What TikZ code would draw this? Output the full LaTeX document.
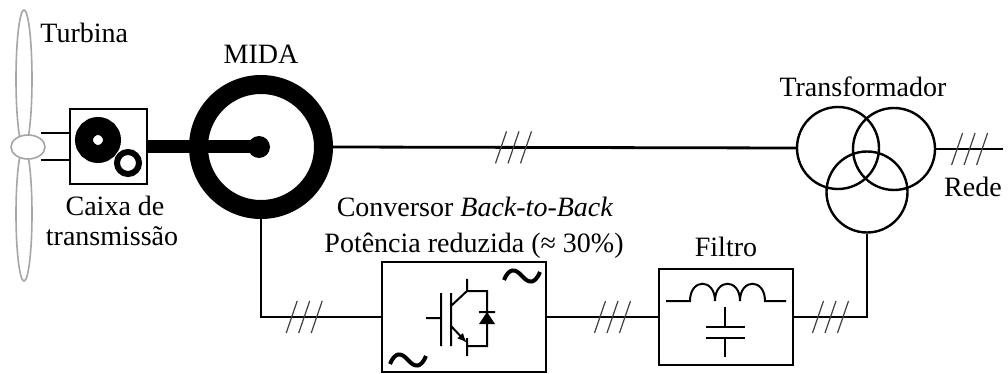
\documentclass[tikz,border=0pt]{standalone}
\usepackage{fontspec}
\setmainfont{Liberation Serif}
\usetikzlibrary{positioning, arrows.meta}

\begin{document}
\begin{tikzpicture}[x=0.5pt, y=-0.5pt]
\tikzstyle{lbl}=[font=\fontsize{14}{17}\selectfont, inner sep=0pt]
\tikzstyle{wire}=[line width=1.4pt]
\tikzstyle{thin}=[line width=1pt]
\tikzstyle{box}=[rectangle, draw=black, line width=1pt, fill=white, inner sep=0pt]
\tikzstyle{slash}=[line width=0.6pt, black!75]
\tikzstyle{blade}=[draw=black!35, line width=0.8pt]
\tikzstyle{ring}=[circle, draw=black, inner sep=0pt]
\tikzstyle{trafo}=[circle, draw=black, line width=1.2pt, minimum size=40.5pt, inner sep=0pt]
\tikzset{tres/.pic={\foreach \s in {-12.5,0,12.5} \draw[slash] (\s-5.5,16) -- (\s+5.5,-16);}}
    \path[use as bounding box, fill=white] (0,0) rectangle (1008,374);
    % turbina
    \draw[blade] (24,79) ellipse [x radius=8, y radius=69];
    \draw[blade] (24,214) ellipse [x radius=8, y radius=67];
    \draw[blade, fill=white] (28,147) ellipse [x radius=17, y radius=12];
    % caixa de transmissao
    \node[box, minimum width=38.5pt, minimum height=37.5pt] (gbox) at (108.5,147) {};
    \draw[thin] (gbox.west) ++(0,-13.5) -- ++(-28,0);
    \draw[thin] (gbox.west) ++(0,13.5) -- ++(-28,0);
    \node[ring, line width=9pt, minimum size=14pt] (biggear) at (98,140) {};
    \node[ring, fill=white, line width=3pt, minimum size=11pt] (smallgear) at (128,163) {};
    % maquina
    \node[ring, line width=9.5pt, minimum size=62.5pt] (gen) at (261,147) {};
    \node[circle, fill, minimum size=11pt, inner sep=0pt] (dot) at (259,147) {};
    \draw[line width=6.5pt] (gbox.east) -- (dot.center);
    % transformador
    \node[trafo, minimum size=41pt] (tA) at (838,148) {};
    \node[trafo, minimum size=41pt] (tB) at (894,149) {};
    \node[trafo] (tC) at (867,192) {};
    \coordinate (rede) at (1003,149);
    % conversor e filtro
    \node[box, minimum width=82pt, minimum height=55pt] (conv) at (464,317) {};
    \node[box, minimum width=67pt, minimum height=48pt] (filt) at (726,317) {};
    \draw[wire] (gen.east) -- (tA.west) pic[pos=.39] {tres};
    \draw[wire] (tB.east) -- (rede) pic[pos=.5] {tres};
    \draw[wire] (gen.south) |- (conv.west) pic[pos=.68] {tres};
    \draw[wire] (conv.east) -- (filt.west) pic[pos=.59] {tres};
    \draw[wire] (tC.south) |- (filt.east) pic[pos=.75] {tres};
    % IGBT
    \draw[thin] (426,318) -- (441,318) (441,293) -- (441,346) (451,293) -- (451,346)
          (451,306) -- (467,291) -- (467,279) (467,291) -- (487,291) -- (487,346) -- (467,346)
          (467,338) -- (467,356) (479,312) -- (495,312);
    \draw[thin, -{Latex[length=5pt, width=4pt]}] (451,326) -- (467,343);
    \fill (487,312) -- (479,324) -- (495,324) -- cycle;
    \draw[line width=2pt] (504,280) .. controls (509,268) and (515,268) .. (522,276)
          .. controls (529,284) and (535,284) .. (540,272);
    \draw[line width=2pt] (390,364) .. controls (395,352) and (401,352) .. (408,360)
          .. controls (415,368) and (421,368) .. (426,356);
    % filtro LC
    \draw[thin] (666,301) -- (690,301) .. controls (690,278) and (715,278) .. (715,301)
          .. controls (715,278) and (740,278) .. (740,301)
          .. controls (740,278) and (765,278) .. (765,301) -- (786,301);
    \draw[line width=1.2pt] (725,307) -- (725,327) (706,327) -- (745,327)
          (706,338) -- (745,338) (725,338) -- (725,357);
    % textos
    \node[lbl, anchor=base west] (turb) at (40,43) {Turbina};
    \node[lbl, above=5.5pt of gen] (mida) {MIDA};
    \node[lbl, anchor=base] (caixa) at (115,216) {Caixa de};
    \node[lbl, anchor=base] (transm) at (112,246) {transmissão};
    \node[lbl, anchor=base] (convA) at (475,217) {Conversor \textit{Back-to-Back}};
    \node[lbl, anchor=base] (convB) at (474,253) {Potência reduzida (≈ 30\%)};
    \node[lbl, above=5.5pt of filt] (filtro) {Filtro};
    \node[lbl, anchor=base] (trlbl) at (863,97) {Transformador};
    \node[lbl, anchor=base] (redelbl) at (973,197) {Rede};
\end{tikzpicture}
\end{document}
